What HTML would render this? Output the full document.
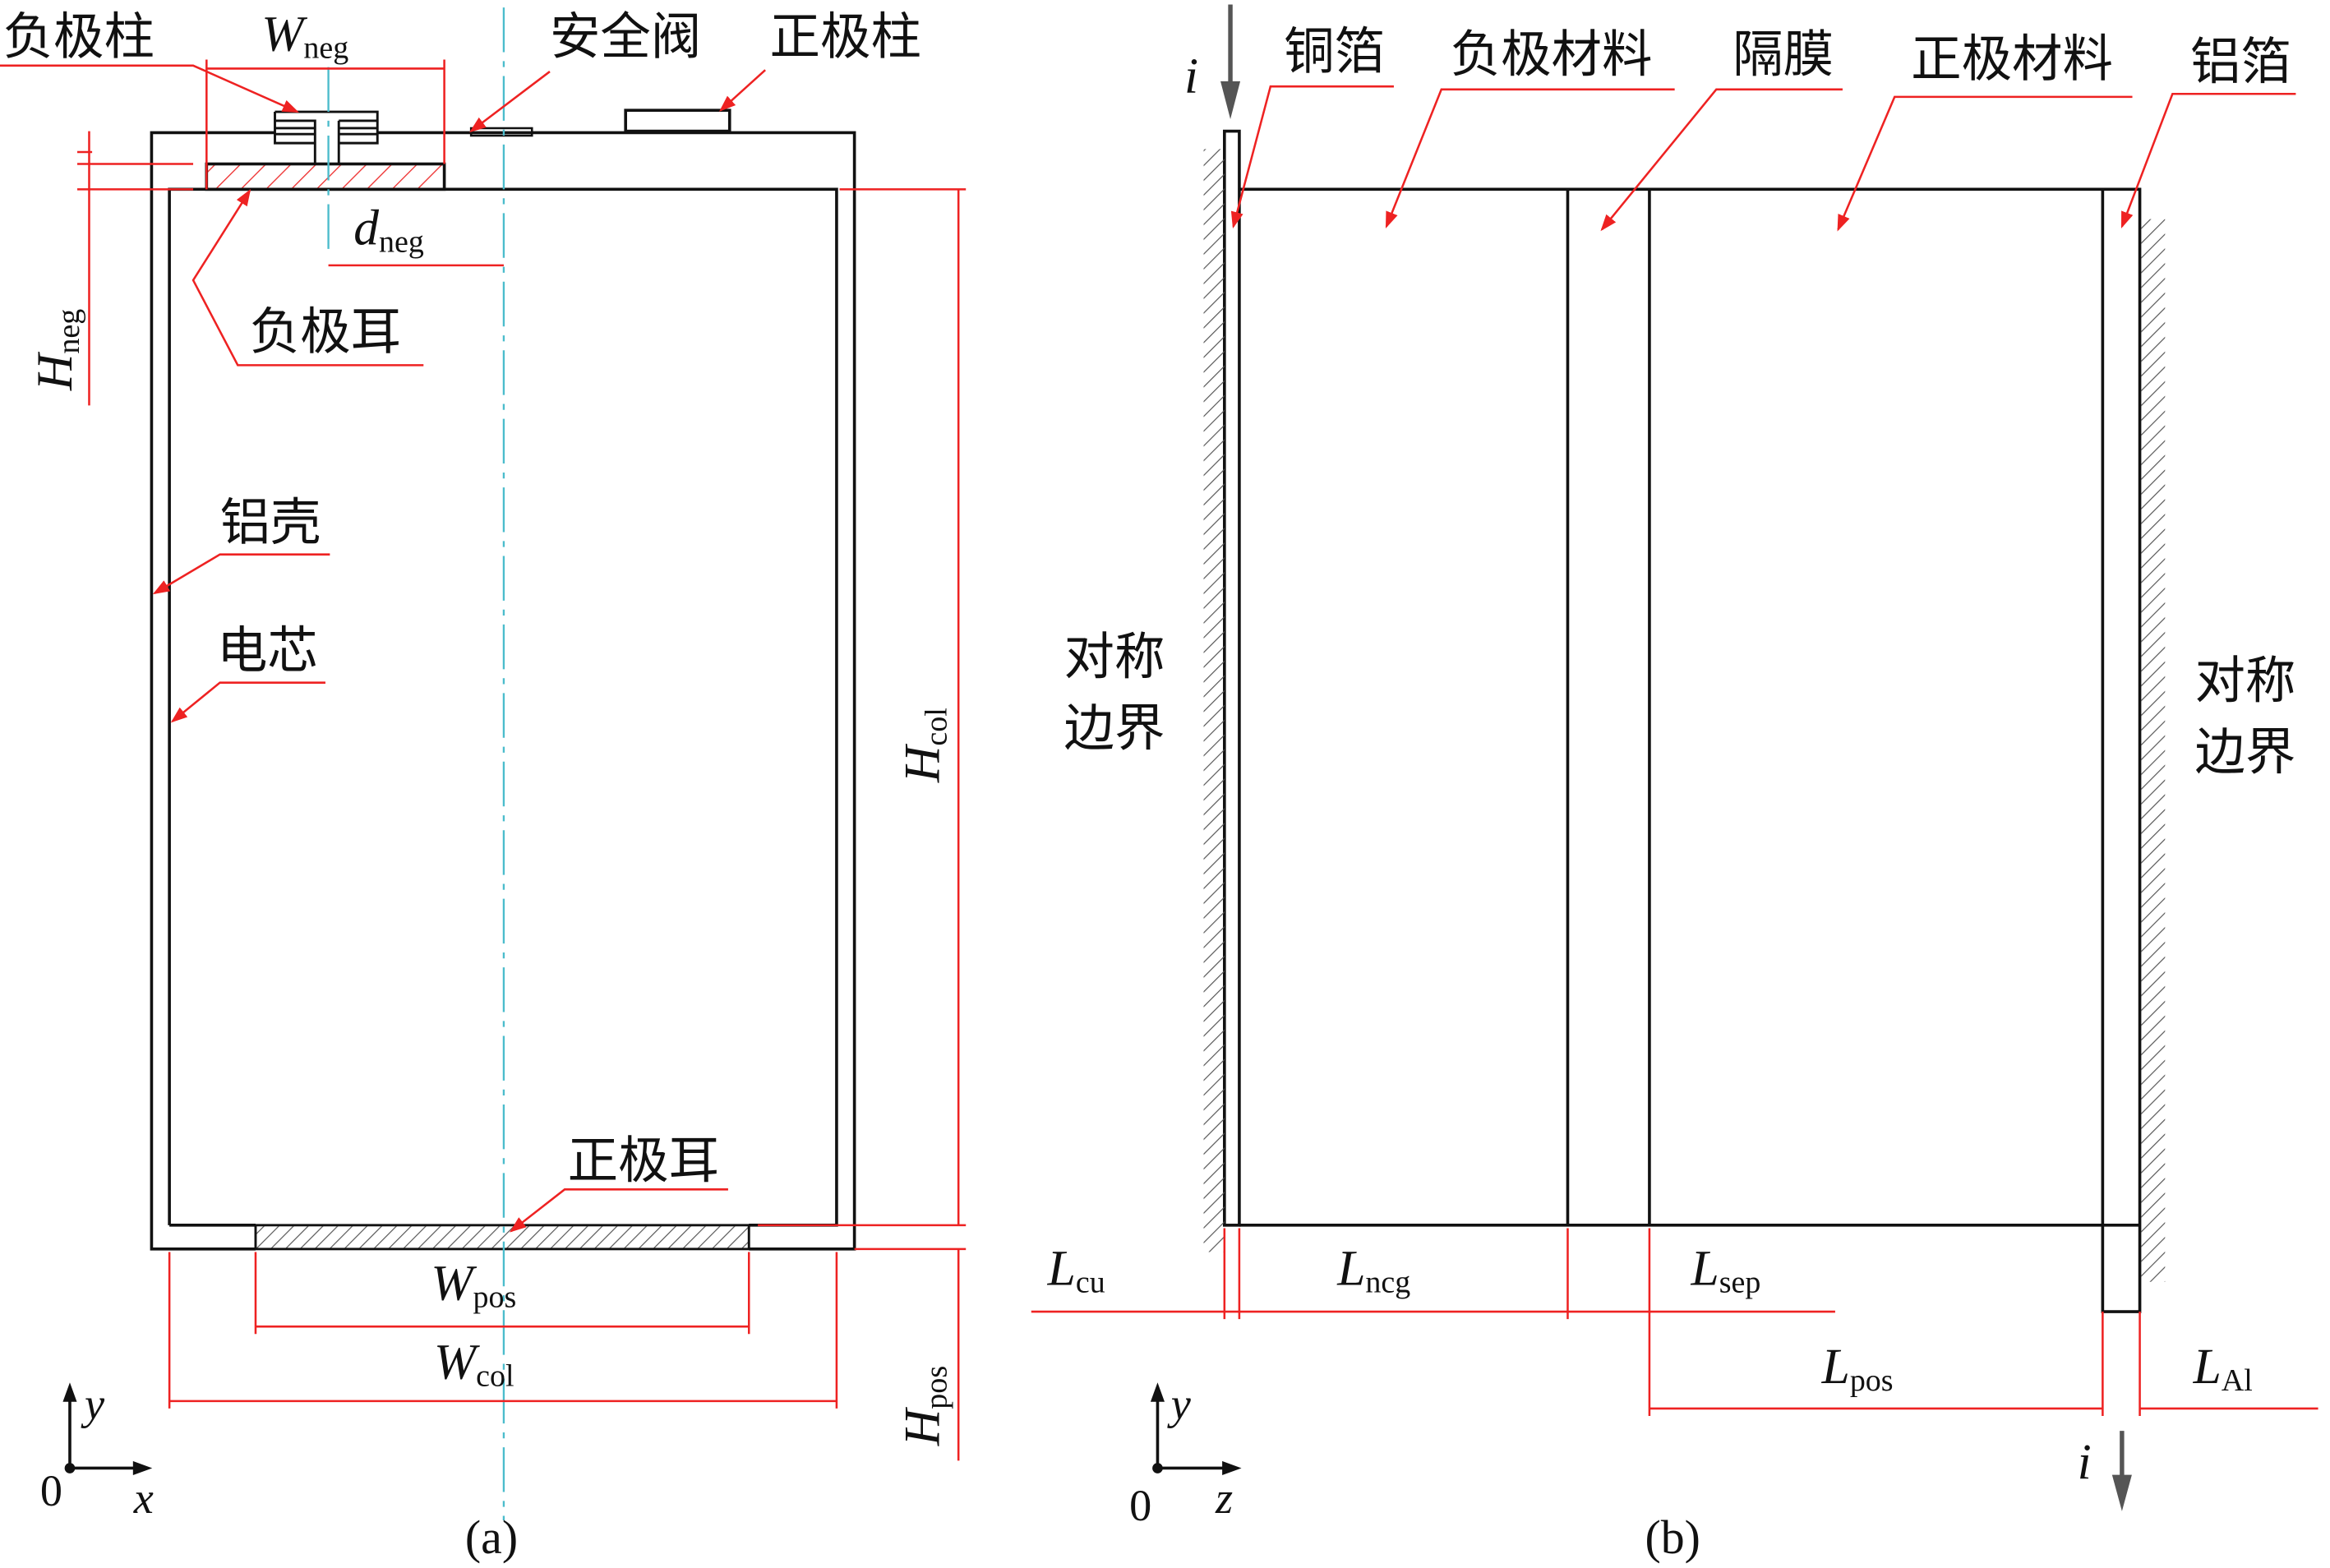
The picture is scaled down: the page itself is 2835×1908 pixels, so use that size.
<!DOCTYPE html>
<html><head><meta charset="utf-8"><style>
html,body{margin:0;padding:0;background:#fff}
svg{display:block}
text{font-family:"Liberation Serif","Noto Serif CJK SC",serif;fill:#111}
.cn{font-family:"Liberation Serif","Noto Sans CJK SC",sans-serif;font-size:34px}
.it{font-style:italic;font-size:34px}
.sub{font-size:21px;font-style:normal}
</style></head><body>
<svg width="2835" height="1908" viewBox="0 0 1568 1052" preserveAspectRatio="none" xmlns="http://www.w3.org/2000/svg">
<defs>
<pattern id="hr" patternUnits="userSpaceOnUse" width="12" height="12" patternTransform="rotate(45)">
<line x1="0" y1="0" x2="0" y2="12" stroke="#e33" stroke-width="1.5"/></pattern>
<pattern id="hg" patternUnits="userSpaceOnUse" width="7" height="7" patternTransform="rotate(45)">
<line x1="0" y1="0" x2="0" y2="7" stroke="#555" stroke-width="1.3"/></pattern>
<marker id="a" markerWidth="8" markerHeight="8" refX="7" refY="4" orient="auto"><path d="M0,1 L8,4 L0,7z" fill="#e22"/></marker>
</defs>
<g fill="none" stroke="#111" stroke-width="2">
<!-- panel a shell -->
<path d="M172,838 H102 V89 H185"/>
<path d="M254,89 H575 V838 H504"/>
<path d="M114,822 V127 H563 V822 H504 M172,822 H114"/>
<rect x="139" y="110" width="160" height="17" fill="url(#hr)"/>
<path d="M185,75 H254 V96 H228 V110 M212,110 V96 H185 V75 M185,81 H212 V96 M228,81 H254 M228,81 V96 M185,86 H212 M185,90 H212 M228,86 H254 M228,90 H254" stroke-width="1.6"/>
<rect x="317" y="86" width="41" height="5" stroke-width="1.4"/>
<rect x="421" y="74" width="70" height="14"/>
<rect x="172" y="822" width="332" height="16" fill="url(#hg)" stroke-width="1.6"/>
<!-- panel b -->
<rect x="824" y="88" width="10" height="734"/>
<path d="M834,127 H1440 V822 H834 M1055,127 V822 M1110,127 V822 M1415,127 V880 H1440 V822"/>
</g>
<rect x="810" y="100" width="14" height="740" fill="url(#hg)"/>
<rect x="1441" y="147" width="16" height="713" fill="url(#hg)"/>
<g stroke="#4bbccc" stroke-width="1.3" stroke-dasharray="30,6,4,6">
<line x1="339" y1="5" x2="339" y2="1020"/>
<line x1="221" y1="45" x2="221" y2="170"/>
</g>
<g stroke="#e22" stroke-width="1.4" fill="none">
<path d="M139,46 H299 M139,40 V127 M299,40 V110" />
<path d="M221,178 H339" />
<path d="M60,88 V272 M52,110 H130 M52,127 H130 M52,102 H62"/>
<path d="M565,127 H650 M645,127 V822 M510,822 H650 M575,838 H650 M645,838 V980"/>
<path d="M172,840 V895 M504,840 V895 M172,890 H504"/>
<path d="M114,840 V945 M563,840 V945 M114,940 H563"/>
<path d="M0,44 H130 L200,75" marker-end="url(#a)"/>
<path d="M370,48 L317,88" marker-end="url(#a)"/>
<path d="M515,47 L485,74" marker-end="url(#a)"/>
<path d="M285,245 H160 L130,188 L168,128" marker-end="url(#a)"/>
<path d="M222,372 H148 L104,398" marker-end="url(#a)"/>
<path d="M219,458 H148 L116,484" marker-end="url(#a)"/>
<path d="M490,798 H380 L344,826" marker-end="url(#a)"/>
<path d="M938,58 H855 L830,152" marker-end="url(#a)"/>
<path d="M1127,60 H970 L933,152" marker-end="url(#a)"/>
<path d="M1240,60 H1155 L1078,154" marker-end="url(#a)"/>
<path d="M1435,65 H1275 L1237,154" marker-end="url(#a)"/>
<path d="M1545,63 H1462 L1428,152" marker-end="url(#a)"/>
<path d="M694,880 H1235 M824,824 V885 M834,824 V885 M1055,824 V885 M1110,824 V950 M1415,880 V950 M1440,880 V950 M1110,945 H1415 M1440,945 H1560"/>
</g>
<g fill="#555" stroke="#555" stroke-width="3">
<line x1="828" y1="3" x2="828" y2="60"/><path d="M822,55 L834,55 L828,78z" stroke-width="1"/>
<line x1="1428" y1="960" x2="1428" y2="995"/><path d="M1422,990 L1434,990 L1428,1012z" stroke-width="1"/>
</g>
<g stroke="#111" stroke-width="2" fill="#111">
<path d="M47,985 V935 M47,985 H95" fill="none"/><path d="M43,940 L47,929 L51,940z M90,981 L101,985 L90,989z" stroke-width="1"/>
<circle cx="47" cy="985" r="2.5"/>
<path d="M779,985 V935 M779,985 H828" fill="none"/><path d="M775,940 L779,929 L783,940z M823,981 L834,985 L823,989z" stroke-width="1"/>
<circle cx="779" cy="985" r="2.5"/>
</g>
<text class="cn" x="2" y="36">负极柱</text>
<text class="cn" x="370" y="36">安全阀</text>
<text class="cn" x="518" y="36">正极柱</text>
<text class="cn" x="168" y="234">负极耳</text>
<text class="cn" x="148" y="362">铝壳</text>
<text class="cn" x="146" y="448">电芯</text>
<text class="cn" x="382" y="790">正极耳</text>
<text class="it" x="176" y="34">W<tspan class="sub" dy="5">neg</tspan></text>
<text class="it" x="238" y="164">d<tspan class="sub" dy="5">neg</tspan></text>
<text class="it" transform="translate(48,262) rotate(-90)">H<tspan class="sub" dy="5">neg</tspan></text>
<text class="it" transform="translate(632,525) rotate(-90)">H<tspan class="sub" dy="5">col</tspan></text>
<text class="it" transform="translate(632,970) rotate(-90)">H<tspan class="sub" dy="5">pos</tspan></text>
<text class="it" x="290" y="872">W<tspan class="sub" dy="5">pos</tspan></text>
<text class="it" x="292" y="925">W<tspan class="sub" dy="5">col</tspan></text>
<text class="it" x="57" y="952" style="font-size:30px">y</text>
<text class="it" x="90" y="1015" style="font-size:30px">x</text>
<text x="27" y="1010" style="font-size:30px">0</text>
<text x="313" y="1042" style="font-size:32px">(a)</text>
<text class="cn" x="864" y="46">铜箔</text>
<text class="cn" x="976" y="48">负极材料</text>
<text class="cn" x="1166" y="48">隔膜</text>
<text class="cn" x="1286" y="51">正极材料</text>
<text class="cn" x="1474" y="53">铝箔</text>
<text class="cn" x="716" y="452">对称</text>
<text class="cn" x="716" y="500">边界</text>
<text class="cn" x="1477" y="468">对称</text>
<text class="cn" x="1477" y="516">边界</text>
<text class="it" x="797" y="62">i</text>
<text class="it" x="1398" y="992">i</text>
<text class="it" x="705" y="862">L<tspan class="sub" dy="5">cu</tspan></text>
<text class="it" x="900" y="862">L<tspan class="sub" dy="5">ncg</tspan></text>
<text class="it" x="1138" y="862">L<tspan class="sub" dy="5">sep</tspan></text>
<text class="it" x="1226" y="928">L<tspan class="sub" dy="5">pos</tspan></text>
<text class="it" x="1476" y="928">L<tspan class="sub" dy="5">Al</tspan></text>
<text class="it" x="788" y="952" style="font-size:30px">y</text>
<text class="it" x="818" y="1015" style="font-size:30px">z</text>
<text x="760" y="1020" style="font-size:30px">0</text>
<text x="1107" y="1042" style="font-size:32px">(b)</text>
</svg>
</body></html>
